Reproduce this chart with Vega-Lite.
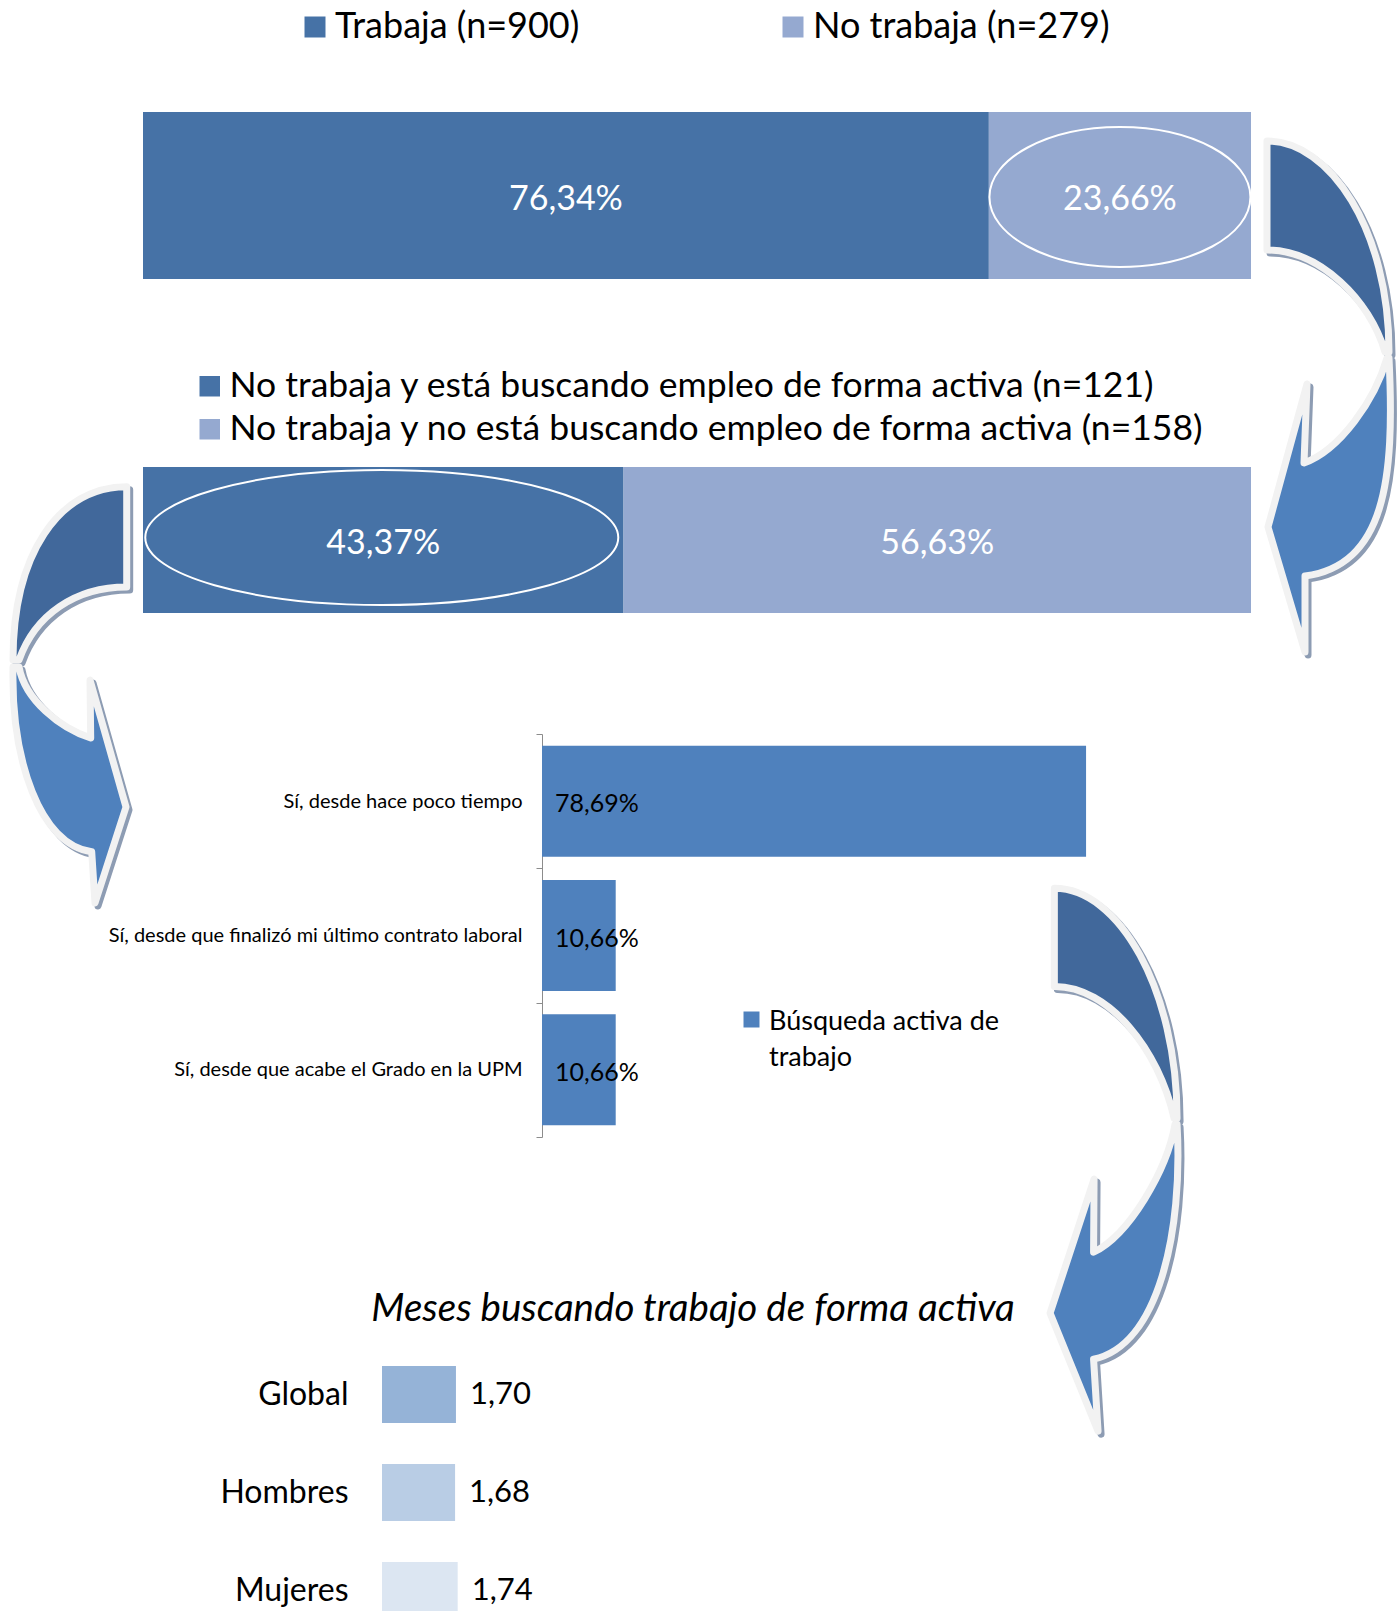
{
  "$schema": "https://vega.github.io/schema/vega-lite/v6.json",
  "background": "white",
  "padding": 0,
  "spacing": 0,
  "bounds": "flush",
  "config": {
    "view": {"stroke": null},
    "font": "Lato",
    "locale": {"number": {"decimal": ",", "thousands": ".", "grouping": [3], "currency": ["", " €"]}},
    "style": {"guide-label": {"lineHeight": 36}}
  },
  "resolve": {"scale": {"color": "independent", "x": "independent", "y": "independent"}, "legend": {"color": "independent"}},
  "vconcat": [
    {
      "width": 1398,
      "height": 300,
      "data": {"values": [
        {"estado": "Trabaja (n=900)", "share": 0.7634},
        {"estado": "No trabaja (n=279)", "share": 0.2366}
      ]},
      "transform": [
        {"stack": "share", "groupby": [], "sort": [{"field": "share", "order": "descending"}], "as": ["x0", "x1"]},
        {"calculate": "(datum.x0 + datum.x1) / 2", "as": "xm"}
      ],
      "layer": [
        {
          "mark": {"type": "bar"},
          "encoding": {
            "x": {"field": "x0", "type": "quantitative", "scale": {"domain": [0, 1], "range": [143, 1251]}, "axis": null},
            "x2": {"field": "x1"},
            "y": {"datum": "total", "type": "nominal", "scale": {"range": [112, 279], "paddingInner": 0, "paddingOuter": 0}, "axis": null},
            "color": {
              "field": "estado", "type": "nominal",
              "scale": {"domain": ["Trabaja (n=900)", "No trabaja (n=279)"], "range": ["#4672A6", "#95A9D0"]},
              "legend": {"title": null, "orient": "none", "legendX": 297, "legendY": 9, "direction": "horizontal", "columns": 2, "columnPadding": 195, "padding": 0, "symbolType": "square", "symbolSize": 441, "symbolStrokeWidth": 0, "labelFont": "Lato", "labelFontSize": 36, "labelColor": "#000000", "labelLimit": 1200, "labelOffset": 2}
            }
          }
        },
        {
          "mark": {"type": "text", "font": "Lato", "fontSize": 34, "fill": "#FFFFFF", "dy": 4},
          "encoding": {
            "x": {"field": "xm", "type": "quantitative"},
            "y": {"datum": "total", "type": "nominal"},
            "text": {"field": "share", "type": "quantitative", "format": ".2%"}
          }
        },
        {
          "transform": [{"filter": "datum.estado === 'No trabaja (n=279)'"}],
          "mark": {"type": "point", "shape": "M-130.5,1.5A130.5,70 0 1,0 130.5,1.5A130.5,70 0 1,0 -130.5,1.5Z", "size": 4, "filled": false, "stroke": "#FFFFFF", "strokeWidth": 2, "opacity": 1},
          "encoding": {
            "x": {"field": "xm", "type": "quantitative"},
            "y": {"datum": "total", "type": "nominal"}
          }
        },
        {
          "mark": {"type": "point", "shape": "M16,-54.5C79,-54.5 138,34.5 138,156.5L134,156.5C119,104.5 69,54.5 16,54.5ZM138,162.5C144,284.5 134,369.5 54,380.5L54,456.5L17,331.5L56,188.5L53,267.5C89,254.5 124,204.5 136,162.5Z", "size": 4, "filled": true, "fill": "#8D9CB3", "stroke": "#8D9CB3", "strokeWidth": 7, "strokeJoin": "round", "opacity": 1, "xOffset": 3, "yOffset": 3},
          "encoding": {
            "x": {"aggregate": "max", "field": "x1", "type": "quantitative"},
            "y": {"datum": "total", "type": "nominal"}
          }
        },
        {
          "mark": {"type": "point", "shape": "M16,-54.5C79,-54.5 138,34.5 138,156.5L134,156.5C119,104.5 69,54.5 16,54.5Z", "size": 4, "filled": true, "fill": "#41689B", "stroke": "#F2F2F2", "strokeWidth": 7, "strokeJoin": "round", "opacity": 1},
          "encoding": {
            "x": {"aggregate": "max", "field": "x1", "type": "quantitative"},
            "y": {"datum": "total", "type": "nominal"}
          }
        },
        {
          "mark": {"type": "point", "shape": "M138,162.5C144,284.5 134,369.5 54,380.5L54,456.5L17,331.5L56,188.5L53,267.5C89,254.5 124,204.5 136,162.5Z", "size": 4, "filled": true, "fill": "#4F81BD", "stroke": "#F2F2F2", "strokeWidth": 7, "strokeJoin": "round", "opacity": 1},
          "encoding": {
            "x": {"aggregate": "max", "field": "x1", "type": "quantitative"},
            "y": {"datum": "total", "type": "nominal"}
          }
        }
      ]
    },
    {
      "width": 1398,
      "height": 360,
      "data": {"values": [
        {"estado": "No trabaja y está buscando empleo de forma activa (n=121)", "share": 0.4337},
        {"estado": "No trabaja y no está buscando empleo de forma activa (n=158)", "share": 0.5663}
      ]},
      "transform": [
        {"stack": "share", "groupby": [], "sort": [{"field": "share", "order": "ascending"}], "as": ["x0", "x1"]},
        {"calculate": "(datum.x0 + datum.x1) / 2", "as": "xm"}
      ],
      "layer": [
        {
          "mark": {"type": "bar"},
          "encoding": {
            "x": {"field": "x0", "type": "quantitative", "scale": {"domain": [0, 1], "range": [143, 1251]}, "axis": null},
            "x2": {"field": "x1"},
            "y": {"datum": "total", "type": "nominal", "scale": {"range": [167, 313], "paddingInner": 0, "paddingOuter": 0}, "axis": null},
            "color": {
              "field": "estado", "type": "nominal",
              "scale": {"domain": ["No trabaja y está buscando empleo de forma activa (n=121)", "No trabaja y no está buscando empleo de forma activa (n=158)"], "range": ["#4672A6", "#95A9D0"]},
              "legend": {"title": null, "orient": "none", "legendX": 192, "legendY": 68.5, "direction": "vertical", "rowPadding": 6, "padding": 0, "symbolType": "square", "symbolSize": 420, "symbolStrokeWidth": 0, "labelFont": "Lato", "labelFontSize": 35.5, "labelColor": "#000000", "labelLimit": 1200, "labelOffset": 2}
            }
          }
        },
        {
          "mark": {"type": "text", "font": "Lato", "fontSize": 34, "fill": "#FFFFFF", "dy": 4},
          "encoding": {
            "x": {"field": "xm", "type": "quantitative"},
            "y": {"datum": "total", "type": "nominal"},
            "text": {"field": "share", "type": "quantitative", "format": ".2%"}
          }
        },
        {
          "transform": [{"filter": "datum.estado === 'No trabaja y está buscando empleo de forma activa (n=121)'"}],
          "mark": {"type": "point", "shape": "M-238,-2.5A236.5,67.5 0 1,0 235,-2.5A236.5,67.5 0 1,0 -238,-2.5Z", "size": 4, "filled": false, "stroke": "#FFFFFF", "strokeWidth": 2, "opacity": 1},
          "encoding": {
            "x": {"field": "xm", "type": "quantitative"},
            "y": {"datum": "total", "type": "nominal"}
          }
        },
        {
          "mark": {"type": "point", "shape": "M-16.3,-53.3C-85,-53 -130,15 -130,120L-124,120C-108,75 -68,47 -16.3,47ZM-130,127C-132,220 -103,305 -51.3,311.7L-48,363L-17,267L-53,140L-52.3,198C-83,188 -118,160 -124,127Z", "size": 4, "filled": true, "fill": "#8D9CB3", "stroke": "#8D9CB3", "strokeWidth": 7, "strokeJoin": "round", "opacity": 1, "xOffset": 3, "yOffset": 3},
          "encoding": {
            "x": {"aggregate": "min", "field": "x0", "type": "quantitative"},
            "y": {"datum": "total", "type": "nominal"}
          }
        },
        {
          "mark": {"type": "point", "shape": "M-16.3,-53.3C-85,-53 -130,15 -130,120L-124,120C-108,75 -68,47 -16.3,47Z", "size": 4, "filled": true, "fill": "#41689B", "stroke": "#F2F2F2", "strokeWidth": 7, "strokeJoin": "round", "opacity": 1},
          "encoding": {
            "x": {"aggregate": "min", "field": "x0", "type": "quantitative"},
            "y": {"datum": "total", "type": "nominal"}
          }
        },
        {
          "mark": {"type": "point", "shape": "M-130,127C-132,220 -103,305 -51.3,311.7L-48,363L-17,267L-53,140L-52.3,198C-83,188 -118,160 -124,127Z", "size": 4, "filled": true, "fill": "#4F81BD", "stroke": "#F2F2F2", "strokeWidth": 7, "strokeJoin": "round", "opacity": 1},
          "encoding": {
            "x": {"aggregate": "min", "field": "x0", "type": "quantitative"},
            "y": {"datum": "total", "type": "nominal"}
          }
        }
      ]
    },
    {
      "width": 1398,
      "height": 670,
      "data": {"values": [
        {"respuesta": "Sí, desde hace poco tiempo", "share": 0.7869},
        {"respuesta": "Sí, desde que finalizó mi último contrato laboral", "share": 0.1066},
        {"respuesta": "Sí, desde que acabe el Grado en la UPM", "share": 0.1066}
      ]},
      "layer": [
        {
          "mark": {"type": "bar", "height": {"band": 0.826}},
          "encoding": {
            "x": {"field": "share", "type": "quantitative", "scale": {"domain": [0, 1], "range": [542, 1233.4]}, "axis": null},
            "y": {
              "field": "respuesta", "type": "nominal", "sort": null,
              "scale": {"range": [74, 477], "paddingInner": 0, "paddingOuter": 0},
              "axis": {"title": null, "offset": -542, "domain": true, "domainColor": "#8C8C8C", "domainWidth": 1, "ticks": true, "tickBand": "extent", "tickSize": 6, "tickColor": "#8C8C8C", "grid": false, "labelFont": "Lato", "labelFontSize": 20, "labelColor": "#000000", "labelLimit": 700, "labelPadding": 14}
            },
            "color": {
              "datum": "Búsqueda activa de trabajo", "type": "nominal",
              "scale": {"range": ["#4F81BD"]},
              "legend": {"title": null, "orient": "none", "legendX": 738, "legendY": 335, "padding": 0, "symbolType": "M-1,0.375H1V2.375H-1Z", "symbolSize": 256, "symbolStrokeWidth": 0, "labelFont": "Lato", "labelFontSize": 27, "labelColor": "#000000", "labelLimit": 1200, "labelOffset": 4, "labelBaseline": "top", "labelExpr": "['Búsqueda activa de', 'trabajo']"}
            }
          }
        },
        {
          "mark": {"type": "text", "align": "left", "dx": 13, "dy": 3, "font": "Lato", "fontSize": 25, "fill": "#000000"},
          "encoding": {
            "x": {"datum": 0, "type": "quantitative"},
            "y": {"field": "respuesta", "type": "nominal", "sort": null},
            "text": {"field": "share", "type": "quantitative", "format": ".2%"}
          }
        },
        {
          "mark": {"type": "point", "shape": "M-31.7,87.2C33,87 91,189 91,317L88,317C73,249 23,185 -31.7,185.3ZM91,323C97,429 73,544 7.5,558L12,630L-36,512L8,378L7.5,451C43,434 81,369 89,323Z", "size": 4, "filled": true, "fill": "#8D9CB3", "stroke": "#8D9CB3", "strokeWidth": 7, "strokeJoin": "round", "opacity": 1, "xOffset": 3, "yOffset": 3},
          "encoding": {
            "x": {"aggregate": "max", "field": "share", "type": "quantitative"},
            "y": {"datum": "Sí, desde hace poco tiempo", "type": "nominal"}
          }
        },
        {
          "mark": {"type": "point", "shape": "M-31.7,87.2C33,87 91,189 91,317L88,317C73,249 23,185 -31.7,185.3Z", "size": 4, "filled": true, "fill": "#41689B", "stroke": "#F2F2F2", "strokeWidth": 7, "strokeJoin": "round", "opacity": 1},
          "encoding": {
            "x": {"aggregate": "max", "field": "share", "type": "quantitative"},
            "y": {"datum": "Sí, desde hace poco tiempo", "type": "nominal"}
          }
        },
        {
          "mark": {"type": "point", "shape": "M91,323C97,429 73,544 7.5,558L12,630L-36,512L8,378L7.5,451C43,434 81,369 89,323Z", "size": 4, "filled": true, "fill": "#4F81BD", "stroke": "#F2F2F2", "strokeWidth": 7, "strokeJoin": "round", "opacity": 1},
          "encoding": {
            "x": {"aggregate": "max", "field": "share", "type": "quantitative"},
            "y": {"datum": "Sí, desde hace poco tiempo", "type": "nominal"}
          }
        }
      ]
    },
    {
      "width": 1398,
      "height": 281,
      "title": {"text": "Meses buscando trabajo de forma activa", "font": "Lato", "fontSize": 38.5, "fontStyle": "italic", "fontWeight": "normal", "color": "#000000", "anchor": "middle", "frame": "group", "offset": 0, "baseline": "bottom", "dx": -6, "dy": 37},
      "data": {"values": [
        {"grupo": "Global", "meses": 1.70},
        {"grupo": "Hombres", "meses": 1.68},
        {"grupo": "Mujeres", "meses": 1.74}
      ]},
      "layer": [
        {
          "mark": {"type": "bar", "clip": true},
          "encoding": {
            "x": {"field": "meses", "type": "quantitative", "scale": {"domain": [0, 2], "range": [382, 469]}, "axis": null},
            "y": {
              "field": "grupo", "type": "nominal", "sort": null,
              "scale": {"range": [15.5, 309.5], "paddingInner": 0.418, "paddingOuter": 0.209},
              "axis": {"title": null, "offset": -348, "domain": false, "ticks": false, "tickSize": 0, "grid": false, "labelPadding": 0, "labelFont": "Lato", "labelFontSize": 32, "labelColor": "#000000", "labelLimit": 400}
            },
            "color": {"field": "grupo", "type": "nominal", "scale": {"domain": ["Global", "Hombres", "Mujeres"], "range": ["#95B3D7", "#B9CDE5", "#DCE6F2"]}, "legend": null}
          }
        },
        {
          "mark": {"type": "text", "align": "left", "dx": 14, "font": "Lato", "fontSize": 31, "fill": "#000000", "clip": true},
          "encoding": {
            "x": {"field": "meses", "type": "quantitative"},
            "y": {"field": "grupo", "type": "nominal", "sort": null},
            "text": {"field": "meses", "type": "quantitative", "format": ".2f"}
          }
        }
      ]
    }
  ]
}
